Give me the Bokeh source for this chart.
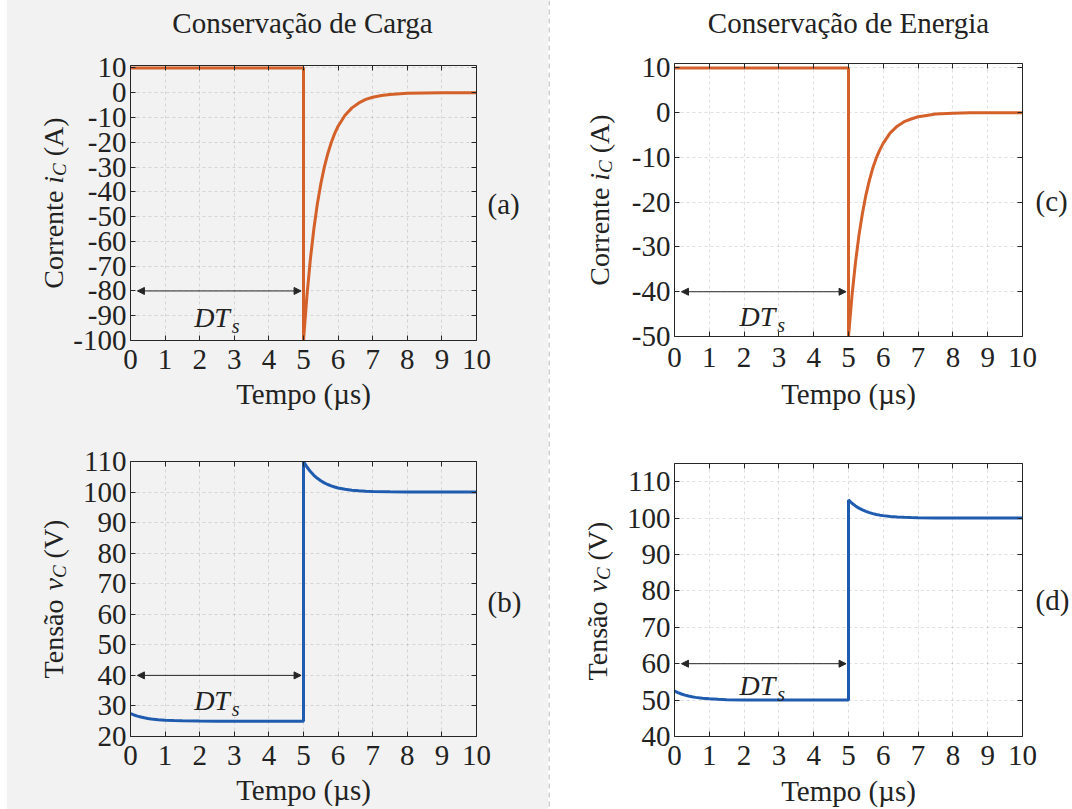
import math
from bokeh.plotting import figure
from bokeh.layouts import row, column
from bokeh.models import (Range1d, FixedTicker, LinearAxis, Label, Arrow, NormalHead, Span,
                          Spacer, CustomJSTickFormatter)
from bokeh.embed import file_html
from bokeh.resources import INLINE

# ---------------- data ----------------
x_ticks = [0, 1, 2, 3, 4, 5, 6, 7, 8, 9, 10]
yticks_a = [-100, -90, -80, -70, -60, -50, -40, -30, -20, -10, 0, 10]
yticks_b = [20, 30, 40, 50, 60, 70, 80, 90, 100, 110]
yticks_c = [-50, -40, -30, -20, -10, 0, 10]
yticks_d = [40, 50, 60, 70, 80, 90, 100, 110]

# current i_C (A), panels (a) and (c)
t_i = [0, 5, 5, 5.1, 5.2, 5.3, 5.4, 5.5, 5.6, 5.7, 5.8, 5.9, 6.0, 6.2, 6.4, 6.6,
       6.8, 7.0, 7.25, 7.5, 8.0, 8.5, 9.0, 10.0]
i_a = [10, 10, -100, -81.9, -67.0, -54.9, -44.9, -36.8, -30.1, -24.7, -20.2, -16.5,
       -13.5, -9.1, -6.1, -4.1, -2.7, -1.8, -1.1, -0.7, -0.2, -0.1, 0, 0]
i_c = [10, 10, -50, -40.9, -33.5, -27.4, -22.5, -18.4, -15.1, -12.3, -10.1, -8.3,
       -6.8, -4.5, -3.0, -2.0, -1.4, -0.9, -0.6, -0.3, -0.1, 0, 0, 0]

# voltage v_C (V), panels (b) and (d)
t_v = [0, 0.1, 0.2, 0.3, 0.4, 0.5, 0.6, 0.8, 1.0, 1.25, 1.5, 2.0, 2.5, 3.0, 5.0,
       5.0, 5.1, 5.2, 5.3, 5.4, 5.5, 5.6, 5.7, 5.8, 5.9, 6.0, 6.2, 6.4, 6.6, 6.8,
       7.0, 7.5, 8.0, 10.0]
v_b = [27.5, 27.05, 26.68, 26.37, 26.12, 25.92, 25.75, 25.5, 25.34, 25.21, 25.12,
       25.05, 25.02, 25.01, 25.0,
       110.0, 108.19, 106.7, 105.49, 104.49, 103.68, 103.01, 102.47, 102.02, 101.65,
       101.35, 100.91, 100.61, 100.41, 100.27, 100.18, 100.07, 100.02, 100.0]
v_d = [52.5, 52.05, 51.68, 51.37, 51.12, 50.92, 50.75, 50.5, 50.34, 50.21, 50.12,
       50.05, 50.02, 50.01, 50.0,
       105.0, 104.09, 103.35, 102.74, 102.25, 101.84, 101.51, 101.23, 101.01, 100.81,
       100.68, 100.45, 100.3, 100.2, 100.14, 100.09, 100.03, 100.01, 100.0]

titles = ["Conservação de Carga", "Conservação de Energia"]
x_label = "Tempo (µs)"
tags = ["(a)", "(b)", "(c)", "(d)"]

# ---------------- styling ----------------
FONT = "Liberation Serif"
TXT = "#222222"
AX = "#262626"
GRAY = "#f1f2f1"
ORANGE = "#D4602A"
BLUE = "#1F5BAE"
TICK_PX = "29px"


class Geo:
    def __init__(self, ox, oy, w, h, L, R, T, B, ymin, ymax):
        self.ox, self.oy, self.w, self.h = ox, oy, w, h
        self.L, self.R, self.T, self.B = L, R, T, B
        self.ymin, self.ymax = ymin, ymax

    def xd(self, px):
        return (px - self.L) / (self.R - self.L) * 10.0

    def yd(self, py):
        return self.ymax - (py - self.T) / (self.B - self.T) * (self.ymax - self.ymin)


def make_fig(g, yticks, bg, tag, tag_py, tag_gap, tick_standoff, label_standoff):
    p = figure(width=g.w, height=g.h, x_range=Range1d(0, 10), y_range=Range1d(g.ymin, g.ymax),
               output_backend="svg", toolbar_location=None,
               min_border_left=g.L - g.ox, min_border_right=g.ox + g.w - g.R,
               min_border_top=g.T - g.oy, min_border_bottom=g.oy + g.h - g.B,
               background_fill_color=bg, border_fill_color=bg, outline_line_color=None)
    p.add_layout(LinearAxis(), "right")
    p.add_layout(LinearAxis(), "above")
    for ax in p.xaxis:
        ax.ticker = FixedTicker(ticks=x_ticks)
    for ax in p.yaxis:
        ax.ticker = FixedTicker(ticks=yticks)
    for ax in p.axis:
        ax.axis_line_color = AX
        ax.axis_line_width = 1
        ax.major_tick_line_color = AX
        ax.major_tick_in = 5
        ax.major_tick_out = 0
        ax.minor_tick_line_color = None
        ax.major_label_text_font = FONT
        ax.major_label_text_font_size = TICK_PX
        ax.major_label_text_color = TXT
    bx = p.below[0]
    bx.major_label_standoff = tick_standoff
    bx.axis_label = x_label
    bx.axis_label_text_font = FONT
    bx.axis_label_text_font_size = "29px"
    bx.axis_label_text_font_style = "normal"
    bx.axis_label_text_color = TXT
    bx.axis_label_standoff = label_standoff
    ly = p.left[0]
    ly.major_label_standoff = 4
    ly.major_label_overrides = {t: str(t) for t in yticks}
    for ax, ticks in ((p.right[0], yticks), (p.above[0], x_ticks)):
        ax.major_label_overrides = {t: "" for t in ticks}
        ax.major_label_text_font_size = "0px"
        ax.major_label_standoff = 0
    # panel tag "(a)" ... drawn as the only label of an extra right axis
    tag_ax = LinearAxis(ticker=FixedTicker(ticks=[round(g.yd(tag_py), 3)]),
                        formatter=CustomJSTickFormatter(code=f"return '{tag}';"),
                        axis_line_color=None, major_tick_line_color=None,
                        minor_tick_line_color=None, major_tick_in=0, major_tick_out=0,
                        major_label_standoff=tag_gap, major_label_text_font=FONT,
                        major_label_text_font_size="29px", major_label_text_color=TXT)
    p.add_layout(tag_ax, "right")
    p.xgrid.ticker = FixedTicker(ticks=x_ticks)
    p.ygrid.ticker = FixedTicker(ticks=yticks)
    for gr in (p.xgrid[0], p.ygrid[0]):
        gr.grid_line_color = AX
        gr.grid_line_alpha = 0.15
        gr.grid_line_dash = "3 3"
    return p


class TextFig:
    """A plain figure used only to hold texts; coordinates are page pixels."""

    def __init__(self, ox, oy, w, h, bg):
        self.ox, self.oy, self.h = ox, oy, h
        self.p = figure(width=w, height=h, x_range=Range1d(0, w), y_range=Range1d(0, h),
                        output_backend="svg", toolbar_location=None, min_border=0,
                        x_axis_location=None, y_axis_location=None,
                        outline_line_color=None, background_fill_color=bg, border_fill_color=bg)
        self.p.grid.visible = False

    def text(self, px, py, text, size=28, italic=False, align="center", baseline="middle",
             angle=0.0):
        self.p.add_layout(Label(x=px - self.ox, y=self.h - (py - self.oy), text=text,
                                text_font=FONT, text_font_size=f"{size}px",
                                text_font_style="italic" if italic else "normal",
                                text_align=align, text_baseline=baseline, angle=angle,
                                text_color=TXT))


def ylabel(tf, g, mid_x, word_text, word_em, var):
    var_em = {"i": 0.278, "v": 0.444}[var]
    sub_em = 0.667 * 19 / 28
    unit = "(A)" if var == "i" else "(V)"
    total = (word_em + 0.25 + var_em + sub_em + 0.25 + 1.388) * 28
    y = (g.T + g.B) / 2 + total / 2
    kw = dict(align="left", baseline="middle", angle=math.pi / 2)
    tf.text(mid_x, y, word_text, **kw)
    y -= (word_em + 0.25) * 28
    tf.text(mid_x, y, var, italic=True, **kw)
    y -= var_em * 28
    tf.text(mid_x + 6, y, "C", size=19, italic=True, **kw)
    y -= (sub_em + 0.25) * 28
    tf.text(mid_x, y, unit, **kw)


def dts(p, g, px, py, arrow_y):
    head = dict(size=7, fill_color=AX, line_color=AX, line_width=1)
    p.add_layout(Arrow(start=NormalHead(**head), end=NormalHead(**head), x_start=0.2,
                       y_start=arrow_y, x_end=4.93, y_end=arrow_y, line_color=AX, line_width=1))
    p.add_layout(Label(x=g.xd(px), y=g.yd(py), text="DT", text_font=FONT, text_font_size="28px",
                       text_font_style="italic", text_align="left", text_baseline="alphabetic",
                       text_color=TXT))
    p.add_layout(Label(x=g.xd(px + 1.278 * 28 + 2), y=g.yd(py + 8), text="s", text_font=FONT,
                       text_font_size="20px", text_font_style="italic", text_align="left",
                       text_baseline="alphabetic", text_color=TXT))


# ---------------- panels ----------------
ga = Geo(70, 45, 478, 375, 128, 476, 65, 340, -100, 11)
gb = Geo(70, 420, 478, 389, 128, 476, 461, 736, 20, 110)
gc = Geo(622, 45, 450, 373, 674, 1022, 63, 336, -50, 11)
gd = Geo(622, 418, 450, 391, 674, 1022, 463, 738, 40, 115)

pa = make_fig(ga, yticks_a, GRAY, tags[0], 203, 11, 9, 6)
pb = make_fig(gb, yticks_b, GRAY, tags[1], 602, 11, 9, 6)
pc = make_fig(gc, yticks_c, "white", tags[2], 200, 13, 11, 8)
pd = make_fig(gd, yticks_d, "white", tags[3], 600, 13, 9, 7)

pa.line(t_i, i_a, line_color=ORANGE, line_width=3)
pc.line(t_i, i_c, line_color=ORANGE, line_width=3)
pb.line(t_v, v_b, line_color=BLUE, line_width=3)
pd.line(t_v, v_d, line_color=BLUE, line_width=3)

dts(pa, ga, 192, 317, -80)
dts(pb, gb, 192, 700, 40)
dts(pc, gc, 739, 316, -40)
dts(pd, gd, 739, 687, 60)

# text holders
title_L = TextFig(7, 4, 541, 41, GRAY)
title_R = TextFig(551, 0, 521, 45, "white")
ylab_L = TextFig(7, 45, 63, 764, GRAY)
ylab_R = TextFig(551, 45, 71, 764, "white")

title_L.text(302, 22, titles[0], size=29)
title_R.text(848, 22, titles[1], size=29)

ylabel(ylab_L, ga, 53, "Corrente", 3.499, "i")
ylabel(ylab_L, gb, 53, "Tensão", 2.888, "v")
ylabel(ylab_R, gc, 598.5, "Corrente", 3.499, "i")
ylabel(ylab_R, gd, 596.5, "Tensão", 2.888, "v")

# divider
pdiv = figure(width=3, height=809, x_range=Range1d(0, 3), y_range=Range1d(0, 1),
              output_backend="svg", toolbar_location=None, min_border=0,
              x_axis_location=None, y_axis_location=None,
              outline_line_color=None, background_fill_color="white", border_fill_color="white")
pdiv.grid.visible = False
pdiv.add_layout(Span(location=0.5, dimension="height", line_color="#a0a0a0",
                     line_dash="5 4", line_width=1))

left = column(Spacer(width=541, height=4),
              title_L.p,
              row(ylab_L.p, column(pa, pb, styles={"background-color": GRAY})),
              styles={"background-color": GRAY})
right = column(title_R.p,
               row(ylab_R.p, column(pc, pd)))

layout = row(Spacer(width=7, height=809), left, pdiv, right)

open("out.html", "w").write(file_html(layout, INLINE))
